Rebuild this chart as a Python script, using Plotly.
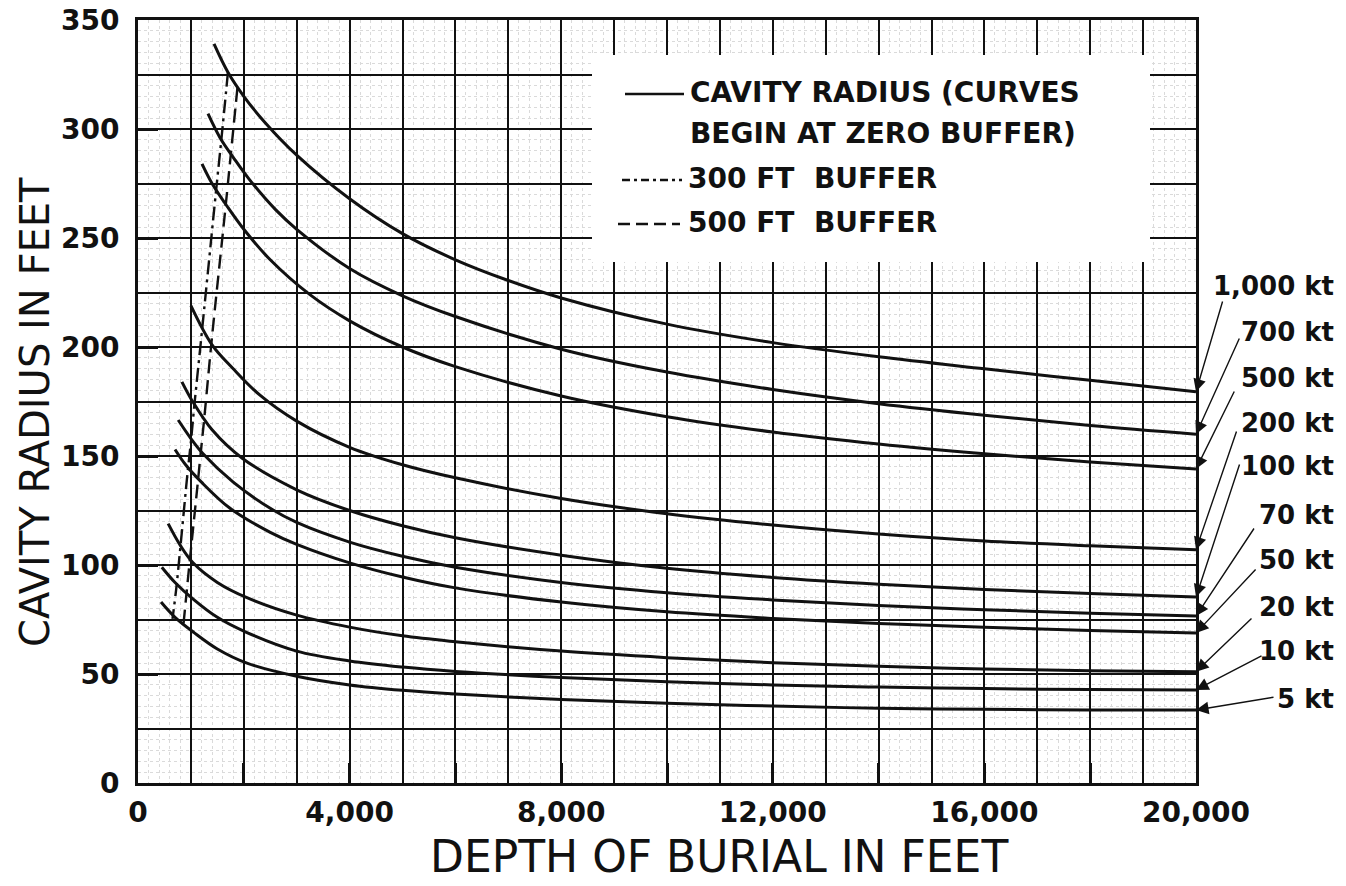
import plotly.graph_objects as go

# ---- cavity radius (ft) versus depth of burial (ft), one curve per yield ----
yield_labels = ["1,000 kt", "700 kt", "500 kt", "200 kt", "100 kt",
                "70 kt", "50 kt", "20 kt", "10 kt", "5 kt"]

depth_1000 = [1437, 1700, 2000, 2400, 3000, 4000, 5000, 6000, 7000, 8000, 10000, 12000, 14000, 16000, 18000, 20000]
radius_1000 = [339, 326, 315, 303, 288, 268, 252, 240, 230.5, 222.5, 210.5, 202, 195.5, 190, 184.7, 179.5]

depth_700 = [1323, 1550, 1800, 2100, 2600, 3000, 4000, 5000, 6000, 8000, 10000, 12000, 14000, 16000, 18000, 20000]
radius_700 = [307, 296, 287, 277, 263, 254, 236, 223.5, 214, 199, 188.5, 180.5, 174, 168.7, 164, 160]

depth_500 = [1210, 1400, 1700, 2000, 2500, 3250, 4000, 5000, 6000, 8000, 10000, 12000, 14000, 16000, 18000, 20000]
radius_500 = [284, 275, 264, 254, 240, 224, 212, 200, 191, 177.5, 168, 161, 155.5, 151, 147.2, 144]

depth_200 = [1000, 1400, 1800, 2300, 3000, 4000, 5000, 6000, 8000, 10000, 12000, 14000, 16000, 18000, 20000]
radius_200 = [219, 201, 190, 178, 166, 154, 146, 140, 130.5, 123.5, 118.3, 114.2, 111, 108.8, 107]

depth_100 = [830, 1020, 1400, 1970, 3000, 4000, 5000, 6000, 8000, 10000, 12000, 14000, 16000, 18000, 20000]
radius_100 = [184, 175.5, 162, 149, 134.5, 125, 118, 112.5, 104.5, 98.5, 94.3, 91.2, 88.8, 86.9, 85.3]

depth_70 = [760, 1000, 1230, 1800, 2500, 3000, 4000, 5000, 6000, 8000, 10000, 12000, 14000, 16000, 18000, 20000]
radius_70 = [166.5, 158, 151, 138, 126, 119.5, 110.5, 104, 99, 92, 87.3, 84, 81.4, 79.5, 77.9, 76.6]

depth_50 = [700, 900, 1200, 1740, 2500, 3000, 4000, 5000, 6000, 8000, 10000, 12000, 14000, 16000, 18000, 20000]
radius_50 = [153, 146, 138, 126, 115, 109.5, 101, 94.5, 89.5, 83, 78.5, 75.5, 73.2, 71.4, 70, 68.8]

depth_20 = [570, 800, 1040, 1500, 2060, 3000, 4000, 5000, 6000, 8000, 10000, 12000, 14000, 16000, 18000, 20000]
radius_20 = [119, 109, 101, 92, 85, 77, 71.5, 67.5, 64.8, 60.5, 57.5, 55.2, 53.5, 52.3, 51.5, 51]

depth_10 = [450, 700, 1060, 1500, 2060, 3000, 4000, 5000, 6000, 8000, 10000, 12000, 14000, 16000, 18000, 20000]
radius_10 = [99, 92, 84, 76, 69, 60.5, 56, 53.2, 51.2, 48.4, 46.5, 45, 44, 43.3, 42.9, 42.7]

depth_5 = [435, 700, 1060, 1500, 2060, 3000, 4000, 5000, 6000, 8000, 10000, 12000, 14000, 16000, 18000, 20000]
radius_5 = [83, 76, 69, 61.5, 55, 49, 45, 42.5, 40.8, 38.3, 36.6, 35.3, 34.3, 33.8, 33.5, 33.5]

# points on each curve reached with 300 ft and 500 ft of buffer (1,000 kt -> 5 kt)
buffer300_depth = [1700, 1575, 1473, 1216, 1066, 997, 938, 806, 720, 652]
buffer300_radius = [326, 295, 271, 209, 173.4, 155.8, 142.6, 109.4, 88.5, 75.3]
buffer500_depth = [1880, 1755, 1652, 1390, 1250, 1180, 1125, 989, 904, 851]
buffer500_radius = [319, 288.5, 263.5, 202.4, 166.7, 150, 136.5, 104.4, 83.8, 70.6]

x_ticks = [0, 2000, 4000, 6000, 8000, 10000, 12000, 14000, 16000, 18000, 20000]
x_tick_text = ["0", "", "4,000", "", "8,000", "", "12,000", "", "16,000", "", "20,000"]
y_ticks = [0, 50, 100, 150, 200, 250, 300, 350]

curves = [
    (yield_labels[0], depth_1000, radius_1000),
    (yield_labels[1], depth_700, radius_700),
    (yield_labels[2], depth_500, radius_500),
    (yield_labels[3], depth_200, radius_200),
    (yield_labels[4], depth_100, radius_100),
    (yield_labels[5], depth_70, radius_70),
    (yield_labels[6], depth_50, radius_50),
    (yield_labels[7], depth_20, radius_20),
    (yield_labels[8], depth_10, radius_10),
    (yield_labels[9], depth_5, radius_5),
]

# ---- page geometry (pixels) ----
W, H = 1346, 886
L, R, T, B = 138, 150, 20, 103
PW, PH = W - L - R, H - T - B


def px(xp):
    return (xp - L) / PW


def py(yp):
    return (H - B - yp) / PH


FONT = "DejaVu Sans"
INK = "#111111"
BOLD = dict(family=FONT, color=INK, weight="bold")

fig = go.Figure()

for name, d, r in curves:
    fig.add_trace(go.Scatter(
        x=d, y=r, mode="lines", name=name,
        line=dict(color=INK, width=3, shape="spline", smoothing=1.0),
        hoverinfo="skip", showlegend=False))

fig.add_trace(go.Scatter(
    x=buffer300_depth, y=buffer300_radius, mode="lines", name="300 FT BUFFER",
    line=dict(color=INK, width=2.4, dash="14px,5px,3px,5px", shape="spline"),
    hoverinfo="skip", showlegend=False))
fig.add_trace(go.Scatter(
    x=buffer500_depth, y=buffer500_radius, mode="lines", name="500 FT BUFFER",
    line=dict(color=INK, width=2.4, dash="14px,7px", shape="spline"),
    hoverinfo="skip", showlegend=False))

# overlay axes carrying the heavy ruled grid of the graph paper
fig.add_trace(go.Scatter(x=[0], y=[0], mode="lines", xaxis="x2", yaxis="y2",
                         hoverinfo="skip", showlegend=False))

fig.update_layout(
    width=W, height=H,
    margin=dict(l=L, r=R, t=T, b=B, autoexpand=False),
    paper_bgcolor="white", plot_bgcolor="white",
    font=dict(family=FONT, color=INK),
    xaxis=dict(
        range=[0, 20000], tickmode="array", tickvals=x_ticks, ticktext=x_tick_text,
        ticks="inside", ticklen=20, tickwidth=2.5, tickcolor=INK,
        tickfont=dict(BOLD, size=28), ticklabelstandoff=2,
        showline=True, linewidth=3, linecolor=INK, mirror=True,
        showgrid=False, zeroline=False, automargin=False,
        minor=dict(tick0=0, dtick=200, showgrid=True, gridcolor="#dadada",
                   griddash="dot", gridwidth=1, ticks=""),
    ),
    yaxis=dict(
        range=[0, 350], tickmode="array", tickvals=y_ticks,
        ticks="inside", ticklen=20, tickwidth=2.5, tickcolor=INK,
        tickfont=dict(BOLD, size=28), ticklabelstandoff=10,
        showline=True, linewidth=3, linecolor=INK, mirror=True,
        showgrid=False, zeroline=False, automargin=False,
        minor=dict(tick0=0, dtick=5, showgrid=True, gridcolor="#dadada",
                   griddash="dot", gridwidth=1, ticks=""),
    ),
    xaxis2=dict(overlaying="x", anchor="y2", range=[0, 20000], tick0=0, dtick=1000,
                showgrid=True, gridcolor=INK, gridwidth=1.5, showticklabels=False,
                ticks="", showline=False, zeroline=False, automargin=False),
    yaxis2=dict(overlaying="y", anchor="x2", range=[0, 350], tick0=0, dtick=25,
                showgrid=True, gridcolor=INK, gridwidth=1.5, showticklabels=False,
                ticks="", showline=False, zeroline=False, automargin=False),
)

# white panel behind the key
fig.add_shape(type="rect", xref="paper", yref="paper",
              x0=px(592), x1=px(1150), y0=py(262), y1=py(55),
              fillcolor="white", line=dict(width=0), layer="above")

# key samples and text
key_font = dict(BOLD, size=28)
fig.add_shape(type="line", xref="paper", yref="paper", x0=px(625), x1=px(684),
              y0=py(94), y1=py(94), line=dict(color=INK, width=2.6))
fig.add_shape(type="line", xref="paper", yref="paper", x0=px(622), x1=px(682),
              y0=py(180), y1=py(180), line=dict(color=INK, width=2.6, dash="8px,4px,3px,4px"))
fig.add_shape(type="line", xref="paper", yref="paper", x0=px(618), x1=px(680),
              y0=py(224), y1=py(224), line=dict(color=INK, width=2.6, dash="12px,6px"))
for txt, xp, yp in [("CAVITY RADIUS (CURVES", 688, 93),
                    ("BEGIN AT ZERO BUFFER)", 688, 133),
                    ("300 FT  BUFFER", 686, 178),
                    ("500 FT  BUFFER", 686, 222)]:
    fig.add_annotation(text=txt, xref="paper", yref="paper", x=px(xp), y=py(yp),
                       xanchor="left", yanchor="middle", showarrow=False, font=key_font)

# yield labels with leader arrows to the end of each curve
label_y = [286, 332, 378, 423, 466, 515, 560, 607, 651, 699]
arrow_tail = [(1223, 300), (1240, 337), (1235, 390), (1237, 430), (1240, 463),
              (1255, 527), (1257, 568), (1253, 617), (1263, 655), (1275, 697)]
for (name, d, r), ly, (tx, ty) in zip(curves, label_y, arrow_tail):
    fig.add_annotation(text=name, xref="paper", yref="paper", x=px(1336), y=py(ly),
                       xanchor="right", yanchor="middle", showarrow=False,
                       font=dict(BOLD, size=26))
    hx = L + PW * d[-1] / 20000
    hy = H - B - PH * r[-1] / 350
    fig.add_annotation(text="", x=d[-1], y=r[-1], xref="x", yref="y",
                       ax=tx - hx, ay=ty - hy, showarrow=True,
                       arrowhead=2, arrowsize=1.8, arrowwidth=1.4, arrowcolor=INK,
                       standoff=0)

# axis titles
fig.add_annotation(text="DEPTH OF BURIAL IN FEET", xref="paper", yref="paper",
                   x=px(719), y=py(884), xanchor="center", yanchor="bottom",
                   showarrow=False, font=dict(family=FONT, size=44, color=INK))
fig.add_annotation(text="CAVITY RADIUS IN FEET", xref="paper", yref="paper",
                   x=px(35), y=py(412), xanchor="center", yanchor="middle",
                   textangle=-90, showarrow=False, font=dict(family=FONT, size=40, color=INK))

fig.write_html("out.html")
